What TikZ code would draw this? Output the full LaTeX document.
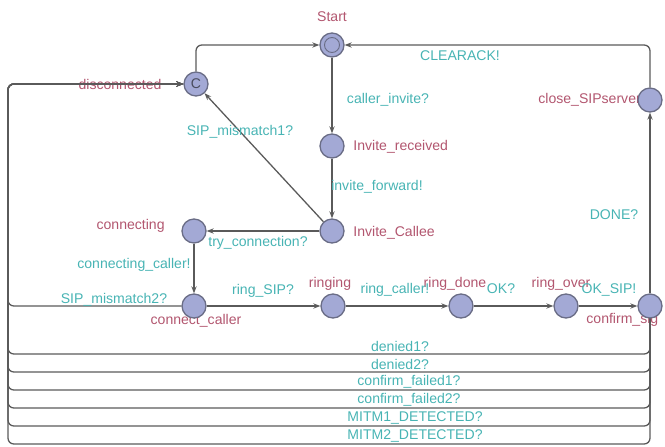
\documentclass[tikz,border=0pt]{standalone}
\usepackage{fontspec}
\setmainfont{Liberation Sans}
\usetikzlibrary{arrows.meta}

\begin{document}
\begin{tikzpicture}[x=0.03cm, y=-0.03cm, font=\fontsize{12}{14}\selectfont,
    loc/.style={circle, draw=locBorder, fill=locFill, line width=1.1pt, minimum size=0.72cm, inner sep=0pt},
    locname/.style={text=nameColour, inner sep=1pt},
    sync/.style={text=syncColour, inner sep=1pt},
    trans/.style={draw=edgeColour, line width=1.1pt, rounded corners=5pt, -{Stealth[length=6pt,width=4.5pt]}}]
    % Define colours
    \definecolor{locFill}{HTML}{A3A9D5}
    \definecolor{locBorder}{HTML}{6A6D86}
    \definecolor{nameColour}{HTML}{B2566F}
    \definecolor{syncColour}{HTML}{48B4B4}
    \definecolor{edgeColour}{HTML}{5A5A5A}

    % Fix the picture size
    \useasboundingbox (0,0) rectangle (665,447);

    % Location names (drawn first, so locations may cover them)
    \node[locname] (nStart) at (332,17) {Start};
    \node[locname] (nDisc) at (120,84) {disconnected};
    \node[locname, anchor=west] (nInvRec) at (352,147) {Invite\_received};
    \node[locname, anchor=west] (nInvCallee) at (352,233) {Invite\_Callee};
    \node[locname, anchor=east] (nConnecting) at (166,226) {connecting};
    \node[locname] (nConnCaller) at (196,321) {connect\_caller};
    \node[locname] (nRinging) at (330,284) {ringing};
    \node[locname] (nRingDone) at (455,284) {ring\_done};
    \node[locname] (nRingOver) at (561,284) {ring\_over};
    \node[locname, anchor=west] (nConfirm) at (585,320) {confirm\_sig};
    \node[locname, anchor=west] (nCloseSip) at (537,100) {close\_SIPserver};

    % Locations
    \node[loc] (start) at (332,45) {};
    \node[circle, draw=locBorder, line width=0.8pt, minimum size=0.45cm, inner sep=0pt] (startInner) at (start) {};
    \node[loc, text=locBorder!70!black] (disc) at (196,84) {C};
    \node[loc] (invRec) at (332,146) {};
    \node[loc] (invCallee) at (332,231) {};
    \node[loc] (connecting) at (194,231) {};
    \node[loc] (connCaller) at (194,306) {};
    \node[loc] (ringing) at (333,306) {};
    \node[loc] (ringDone) at (461,306) {};
    \node[loc] (ringOver) at (566,306) {};
    \node[loc] (confirm) at (650,306) {};
    \node[loc] (closeSip) at (650,100) {};

    % Corner points on the left side
    \coordinate (leftTop) at (8,84);
    \coordinate (leftMis) at (8,306);

    % Transitions
    \draw[trans] (start) -- (invRec);
    \draw[trans] (invRec) -- (invCallee);
    \draw[trans] (invCallee) -- (disc);
    \draw[trans] (invCallee) -- (connecting);
    \draw[trans] (connecting) -- (connCaller);
    \draw[trans] (connCaller) -- (ringing);
    \draw[trans] (ringing) -- (ringDone);
    \draw[trans] (ringDone) -- (ringOver);
    \draw[trans] (ringOver) -- (confirm);
    \draw[trans] (confirm) -- (closeSip);
    \draw[trans] (closeSip) |- (start);
    \draw[trans] (disc) |- (start);
    \draw[trans] (connCaller) -- (leftMis) -- (leftTop) -- (disc);

    % Synchronisations
    \node[sync] (sCallerInvite) at (388,100) {caller\_invite?};
    \node[sync] (sInviteFwd) at (377,187) {invite\_forward!};
    \node[sync] (sClearAck) at (460,56) {CLEARACK!};
    \node[sync] (sDone) at (614,215) {DONE?};
    \node[sync] (sMismatch1) at (240,132) {SIP\_mismatch1?};
    \node[sync] (sTryConn) at (258,243) {try\_connection?};
    \node[sync] (sConnCaller) at (134,265) {connecting\_caller!};
    \node[sync] (sMismatch2) at (114,300) {SIP\_mismatch2?};
    \node[sync] (sRingSip) at (263,291) {ring\_SIP?};
    \node[sync] (sRingCaller) at (395,290) {ring\_caller!};
    \node[sync] (sOk) at (501,289) {OK?};
    \node[sync] (sOkSip) at (609,290) {OK\_SIP!};

    % Failure loops back to disconnected
    \foreach \y/\lx/\lab in {354/400/denied1?, 372/400/denied2?, 390/409/confirm\_failed1?,
                             408/409/confirm\_failed2?, 426/415/MITM1\_DETECTED?, 444/415/MITM2\_DETECTED?} {
        \coordinate (rightFail\y) at (650,\y);
        \coordinate (leftFail\y) at (8,\y);
        \draw[trans] (confirm) -- (rightFail\y) -- (leftFail\y) -- (leftTop) -- (disc);
        \node[sync] (sFail\y) at (\lx,\y-8) {\lab};
    }

\end{tikzpicture}
\end{document}
